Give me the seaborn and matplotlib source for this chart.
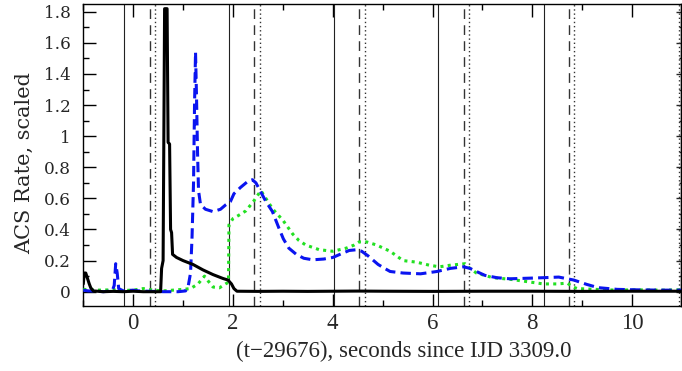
import matplotlib
matplotlib.use("Agg")
import matplotlib.pyplot as plt
import seaborn as sns
import pandas as pd
from matplotlib.ticker import MultipleLocator

# ---- data ----
black_t = [-1.0, -0.98, -0.95, -0.92, -0.88, -0.85, -0.8, -0.6, -0.4, -0.2, 0.0, 0.2, 0.4, 0.55,
           0.57, 0.6, 0.615, 0.63, 0.68, 0.70, 0.73, 0.75, 0.77, 0.79, 0.87, 1.0, 1.2, 1.4, 1.6,
           1.8, 1.9, 1.97, 2.02, 2.08, 2.5, 3.0, 3.5, 4.0, 4.5, 5.0, 6.0, 7.0, 8.0, 9.0, 10.0, 11.0]
black_y = [0.05, 0.12, 0.12, 0.09, 0.05, 0.025, 0.005, 0.0, 0.002, 0.0, 0.003, 0.0, 0.0, 0.0,
           0.15, 0.2, 1.0, 1.82, 1.82, 0.96, 0.95, 0.4, 0.38, 0.24, 0.22, 0.2, 0.175, 0.14, 0.11,
           0.085, 0.075, 0.05, 0.02, 0.003, 0.002, 0.003, 0.002, 0.003, 0.004, 0.003, 0.002, 0.003,
           0.003, 0.002, 0.003, 0.003]

blue_t = [-1.0, -0.9, -0.8, -0.6, -0.42, -0.38, -0.35, -0.32, -0.29, -0.2, 0.0, 0.1, 0.3, 0.6,
          0.9, 1.05, 1.1, 1.15, 1.18, 1.21, 1.23, 1.25, 1.27, 1.29, 1.31, 1.35, 1.45, 1.6, 1.75,
          1.86, 1.95, 2.02, 2.15, 2.3, 2.39, 2.46, 2.56, 2.66, 2.79, 2.92, 3.01, 3.12, 3.27, 3.42,
          3.6, 3.82, 4.0, 4.18, 4.33, 4.48, 4.58, 4.71, 4.91, 5.04, 5.15, 5.41, 5.76, 6.09, 6.36,
          6.62, 6.75, 6.88, 7.05, 7.29, 7.55, 7.95, 8.22, 8.53, 8.67, 8.83, 9.09, 9.32, 9.7,
          10.1, 10.6, 11.0]
blue_y = [0.01, 0.005, 0.005, 0.0, 0.005, 0.04, 0.18, 0.12, 0.02, 0.005, 0.01, 0.005, 0.003, 0.0,
          0.0, 0.005, 0.03, 0.12, 0.35, 0.7, 1.2, 1.54, 1.25, 0.9, 0.65, 0.56, 0.53, 0.515, 0.53,
          0.56, 0.58, 0.63, 0.67, 0.71, 0.72, 0.7, 0.64, 0.58, 0.516, 0.41, 0.34, 0.28, 0.24, 0.215,
          0.205, 0.21, 0.22, 0.245, 0.265, 0.27, 0.26, 0.23, 0.175, 0.15, 0.13, 0.12, 0.115, 0.13,
          0.15, 0.16, 0.15, 0.13, 0.105, 0.09, 0.083, 0.087, 0.09, 0.094, 0.085, 0.075, 0.047,
          0.026, 0.015, 0.012, 0.01, 0.01]

green_t = [-1.0, -0.7, -0.4, -0.2, 0.0, 0.2, 0.4, 0.6, 0.8, 1.0, 1.15, 1.3, 1.43, 1.5, 1.6, 1.73,
           1.85, 1.91, 1.92, 2.0, 2.11, 2.26, 2.41, 2.56, 2.62, 2.8, 3.0, 3.2, 3.32, 3.46, 3.73,
           4.0, 4.27, 4.43, 4.53, 4.68, 4.88, 5.15, 5.41, 5.68, 5.94, 6.14, 6.35, 6.65, 6.75, 6.88,
           7.21, 7.55, 7.89, 8.22, 8.5, 8.7, 8.82, 8.9, 9.27, 9.68, 10.08, 10.6, 11.0]
green_y = [0.015, 0.01, 0.012, 0.008, 0.01, 0.02, 0.01, 0.005, 0.01, 0.015, 0.02, 0.05, 0.1, 0.07,
           0.03, 0.025, 0.05, 0.06, 0.43, 0.47, 0.49, 0.52, 0.58, 0.65, 0.62, 0.53, 0.46, 0.37,
           0.33, 0.30, 0.27, 0.26, 0.28, 0.30, 0.32, 0.32, 0.30, 0.26, 0.20, 0.19, 0.17, 0.16, 0.17,
           0.18, 0.15, 0.12, 0.09, 0.08, 0.065, 0.05, 0.05, 0.055, 0.03, 0.02, 0.015, 0.01, 0.012,
           0.01, 0.012]

solid_marks = [-0.177, 1.92, 4.03, 6.11, 8.23]
dashed_marks = [0.33, 2.42, 4.53, 6.64, 8.74]
dotted_marks = [0.437, 2.54, 4.64, 6.74, 8.84, 10.94]

y_ticks = [0, 0.2, 0.4, 0.6, 0.8, 1.0, 1.2, 1.4, 1.6, 1.8]
y_tick_labels = ['0', '0.2', '0.4', '0.6', '0.8', '1', '1.2', '1.4', '1.6', '1.8']
x_label = "(t\u221229676), seconds since IJD 3309.0"
y_label = "ACS Rate, scaled"

# ---- figure ----
sns.set_theme(style="white")
plt.rcParams['font.family'] = ['Liberation Serif', 'DejaVu Serif']

fig = plt.figure(figsize=(6.82, 3.71), dpi=100)
ax = fig.add_axes([0.1221, 0.1752, 0.8764, 0.8140])

for v in solid_marks:
    ax.axvline(v, color='#222222', lw=0.8, zorder=1)
for v in dashed_marks:
    ax.axvline(v, color='#333333', lw=1.0, dashes=(7, 4.5), zorder=1)
for v in dotted_marks:
    ax.axvline(v, color='#333333', lw=1.0, dashes=(1, 2), zorder=1)

df_g = pd.DataFrame({"t": green_t, "r": green_y})
df_b = pd.DataFrame({"t": blue_t, "r": blue_y})
df_k = pd.DataFrame({"t": black_t, "r": black_y})

sns.lineplot(data=df_g, x="t", y="r", ax=ax, color='#22e022', lw=2.2,
             estimator=None, zorder=3)
ax.lines[-1].set_dashes((1, 1.4))
sns.lineplot(data=df_b, x="t", y="r", ax=ax, color='#0a14f0', lw=2.2,
             estimator=None, zorder=4)
ax.lines[-1].set_dashes((3.4, 1.7))
sns.lineplot(data=df_k, x="t", y="r", ax=ax, color='black', lw=2.2,
             estimator=None, zorder=5)

ax.set_xlim(-1.0, 10.98)
ax.set_ylim(-0.092, 1.85)

ax.xaxis.set_major_locator(MultipleLocator(2))
ax.xaxis.set_minor_locator(MultipleLocator(1))
ax.yaxis.set_minor_locator(MultipleLocator(0.1))
ax.set_yticks(y_ticks)
ax.set_yticklabels(y_tick_labels, family=['DejaVu Serif'], fontsize=12.2)

ax.tick_params(axis='both', which='major', direction='in', length=9, width=1,
               color='black', top=True, right=False, bottom=True, left=True)
ax.tick_params(axis='x', which='major', pad=5, labelsize=16.5)
ax.tick_params(axis='y', which='major', pad=9)
ax.tick_params(axis='both', which='minor', direction='in', length=4.5, width=1,
               color='black', top=True, right=False, bottom=True, left=True)

sec = ax.secondary_yaxis('right')
sec.yaxis.set_major_locator(MultipleLocator(0.2))
sec.yaxis.set_minor_locator(MultipleLocator(0.1))
sec.tick_params(which='major', direction='in', length=3.5, width=1, labelright=False)
sec.tick_params(which='minor', direction='in', length=1.8, width=1)
sec.spines['right'].set_linewidth(1.0)

for s in ax.spines.values():
    s.set_color('black')
    s.set_linewidth(1.0)

ax.set_xlabel(x_label, fontsize=16.5, va='center')
ax.xaxis.set_label_coords(0.537, -0.152)
ax.set_ylabel(y_label, fontsize=15, family=['DejaVu Serif'])
ax.yaxis.set_label_coords(-0.082, 0.473)

fig.savefig("out.png", dpi=100)
